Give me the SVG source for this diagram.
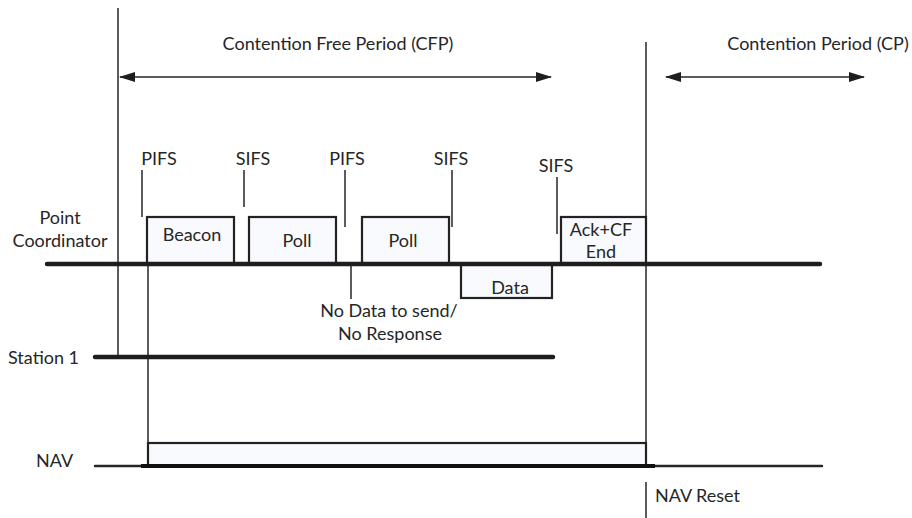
<svg xmlns="http://www.w3.org/2000/svg" width="912" height="518" viewBox="0 0 912 518">
  <style>
    text { font-family: Lato, "Open Sans", "Liberation Sans", sans-serif; font-size: 18px; fill: #262626; }
    .mid { text-anchor: middle; }
    .thin { stroke: #262626; stroke-width: 1.5; fill: none; }
    .bus { stroke: #1e1e1e; stroke-width: 4.5; stroke-linecap: round; fill: none; }
    .frame { fill: #f8fafd; stroke: #222; stroke-width: 2.2; }
    .span { stroke: #262626; stroke-width: 1.5; fill: none; marker-start: url(#head); marker-end: url(#head); }
  </style>
  <defs>
    <marker id="head" viewBox="0 0 16 10" refX="15" refY="5" markerWidth="16" markerHeight="10" markerUnits="userSpaceOnUse" orient="auto-start-reverse">
      <path d="M0,0 L16,5 L0,10 Z" fill="#1e1e1e"/>
    </marker>
  </defs>

  <!-- timing lines and period arrows -->
  <g id="connectors">
    <line class="thin" x1="118" y1="8" x2="118" y2="357"/>
    <line class="thin" x1="646" y1="42" x2="646" y2="466"/>
    <line class="thin" x1="148" y1="264" x2="148" y2="466"/>
    <line class="thin" x1="351" y1="264" x2="351" y2="299"/>
    <line class="span" x1="120" y1="77" x2="551" y2="77"/>
    <line class="span" x1="666" y1="77" x2="864" y2="77"/>
    <!-- interframe space markers -->
    <line class="thin" x1="142" y1="170" x2="142" y2="217"/>
    <line class="thin" x1="244" y1="170" x2="244" y2="207"/>
    <line class="thin" x1="345" y1="170" x2="345" y2="227"/>
    <line class="thin" x1="452" y1="170" x2="452" y2="227"/>
    <line class="thin" x1="557" y1="177" x2="557" y2="234"/>
    <line class="thin" x1="646" y1="482" x2="646" y2="518"/>
  </g>

  <g id="period-labels">
    <text class="mid" x="338" y="50">Contention Free Period (CFP)</text>
    <text class="mid" x="818" y="50">Contention Period (CP)</text>
  </g>

  <g id="ifs-labels">
    <text class="mid" x="159" y="165">PIFS</text>
    <text class="mid" x="253" y="165">SIFS</text>
    <text class="mid" x="347" y="165">PIFS</text>
    <text class="mid" x="451" y="165">SIFS</text>
    <text class="mid" x="556" y="172">SIFS</text>
  </g>

  <!-- point coordinator timeline -->
  <g id="point-coordinator">
    <text class="mid" x="60" y="224">Point</text>
    <text class="mid" x="60" y="247">Coordinator</text>
  </g>

  <g id="beacon">
    <rect class="frame" x="147" y="217" width="87" height="47"/>
    <text class="mid" x="192" y="241">Beacon</text>
  </g>
  <g id="poll-1">
    <rect class="frame" x="249" y="217" width="87" height="47"/>
    <text class="mid" x="297" y="247">Poll</text>
  </g>
  <g id="poll-2">
    <rect class="frame" x="362" y="217" width="87" height="47"/>
    <text class="mid" x="403" y="247">Poll</text>
  </g>
  <g id="data">
    <rect class="frame" x="461" y="264" width="91" height="34"/>
    <text class="mid" x="510" y="294">Data</text>
  </g>
  <g id="ack-cf-end">
    <rect class="frame" x="561" y="217" width="85" height="47"/>
    <text class="mid" x="601" y="236">Ack+CF</text>
    <text class="mid" x="601" y="258">End</text>
  </g>
  <line class="bus" x1="47" y1="264" x2="820" y2="264"/>

  <g id="no-response">
    <text class="mid" x="389" y="317">No Data to send/</text>
    <text class="mid" x="390" y="340">No Response</text>
  </g>

  <!-- station timeline -->
  <g id="station-1">
    <text x="8" y="364">Station 1</text>
    <line class="bus" x1="95" y1="357" x2="553" y2="357"/>
  </g>

  <!-- network allocation vector -->
  <g id="nav">
    <text x="36" y="467">NAV</text>
    <rect class="frame" x="148" y="443" width="498" height="23"/>
    <line stroke="#262626" stroke-width="2.5" stroke-linecap="round" x1="95" y1="466" x2="822" y2="466"/>
    <line stroke="#111" stroke-width="4" x1="141" y1="466" x2="655" y2="466"/>
  </g>
  <g id="nav-reset">
    <text x="655" y="502">NAV Reset</text>
  </g>
</svg>
